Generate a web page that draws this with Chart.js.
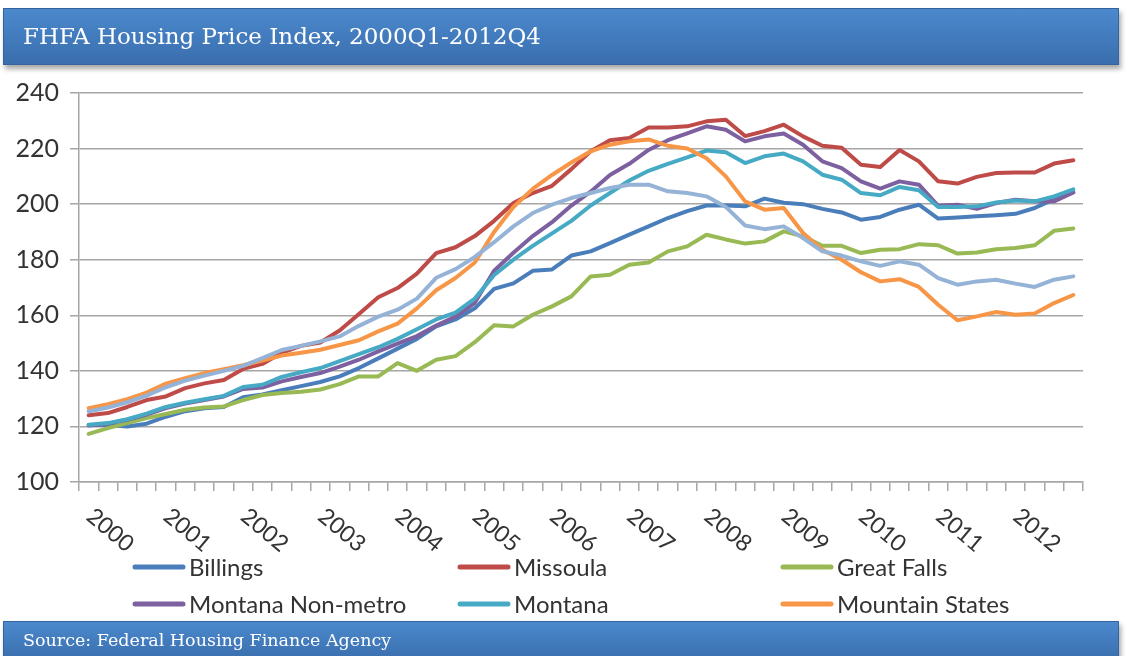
<!DOCTYPE html>
<html>
<head>
<meta charset="utf-8">
<script src="https://cdn.jsdelivr.net/npm/chart.js@4.4.1/dist/chart.umd.min.js"></script>
<style>
    body { margin: 0; width: 1126px; height: 656px; overflow: hidden; background: #fff; position: relative; }
    .banner {
        position: absolute; left: 3px; width: 1116px; z-index: 2;
        background: linear-gradient(#4b89cd, #3a6ead);
        border: 1px solid #3563a0;
        box-shadow: 2px 4px 5px rgba(0, 0, 0, 0.35);
        color: #fff; font-family: "DejaVu Serif", serif;
        box-sizing: border-box; padding-left: 19px;
    }
    #title { top: 8px; height: 57px; line-height: 55px; font-size: 23px; }
    #source { top: 621px; height: 40px; line-height: 36px; font-size: 17.5px; }
    #chart { position: absolute; left: 0; top: 0; z-index: 1; }
</style>
</head>
<body>
<div class="banner" id="title">FHFA Housing Price Index, 2000Q1-2012Q4</div>
<canvas id="chart" width="1126" height="656"></canvas>
<div class="banner" id="source">Source: Federal Housing Finance Agency</div>

<script>
// --- DATOS ---
const years = ['2000', '2001', '2002', '2003', '2004', '2005', '2006', '2007', '2008', '2009', '2010', '2011', '2012'];
const quarterNames = ['Q1', 'Q2', 'Q3', 'Q4'];

const billings = [120.5, 120.5, 120, 121, 123.5, 125.5, 126.5, 127, 130.5, 131.5,
    133, 134.5, 136, 138, 141, 144.5, 148, 151.5, 156, 158.5,
    162.5, 169.5, 171.5, 176, 176.5, 181.5, 183, 186, 189, 192,
    195, 197.5, 199.5, 199.5, 199.2, 202, 200.5, 200, 198.3, 197,
    194.4, 195.4, 198, 199.8, 194.8, 195.2, 195.6, 196, 196.5, 198.6,
    201.8, 204.3];
const missoula = [124, 124.8, 127, 129.5, 130.8, 133.8, 135.5, 136.7, 140.7, 142.5,
    146.5, 149, 150.2, 154.5, 160.5, 166.5, 169.8, 175, 182.4, 184.5,
    188.5, 194, 200.4, 204, 206.6, 212.6, 219, 223, 223.8, 227.6,
    227.6, 228, 229.8, 230.4, 224.5, 226.3, 228.6, 224.4, 221, 220.3,
    214.2, 213.4, 219.5, 215.4, 208.2, 207.4, 209.8, 211.2, 211.4, 211.4,
    214.6, 215.8];
const greatFalls = [117.3, 119.4, 121.2, 123, 124.5, 126, 126.8, 127.2, 129.5, 131.3,
    132, 132.5, 133.3, 135.2, 138, 138, 142.8, 140, 144, 145.3,
    150.3, 156.4, 156, 160.2, 163.2, 166.8, 174, 174.6, 178.2, 179,
    183, 184.8, 189, 187.3, 185.8, 186.6, 190.2, 188.4, 185, 185,
    182.4, 183.6, 183.8, 185.6, 185.2, 182.2, 182.6, 183.8, 184.2, 185.2,
    190.4, 191.2];
const nonMetro = [120.3, 121, 122.4, 124.3, 126.6, 128.2, 129.5, 130.8, 133.5, 134,
    136.2, 137.8, 139.2, 141.5, 144, 147, 149.8, 152.5, 156.3, 159.5,
    164.5, 176, 182.5, 188.5, 193.5, 199.5, 204.5, 210.5, 214.5, 219.5,
    223, 225.5, 228, 226.8, 222.6, 224.4, 225.4, 221.4, 215.4, 213,
    208.2, 205.6, 208.2, 207, 199.4, 199.8, 198.3, 200.4, 201.6, 201,
    201, 204.2];
const montana = [120.6, 121.2, 122.6, 124.6, 127, 128.5, 129.8, 131, 134.2, 135,
    137.8, 139.5, 141, 143.5, 146, 148.5, 151.5, 155, 158.5, 161,
    166, 174.5, 180, 185, 189.5, 194, 199.5, 204, 208.5, 212,
    214.5, 216.8, 219.3, 218.7, 214.8, 217.2, 218.2, 215.4, 210.6, 208.8,
    204, 203.2, 206.2, 205, 199, 199, 199.2, 200.6, 201.3, 201,
    202.8, 205.3];
const mountainStates = [126.6, 128, 129.8, 132.2, 135.4, 137.4, 139.2, 140.6, 142, 143.7,
    145.5, 146.5, 147.6, 149.3, 151, 154.2, 157, 162.5, 169, 173.4,
    179, 190, 199, 205.5, 210.5, 215, 219, 221.4, 222.6, 223.3,
    221, 220, 216.5, 210, 201, 198, 198.6, 189.6, 183.6, 180,
    175.5, 172.2, 173, 170.2, 163.8, 158.2, 159.6, 161.2, 160.2, 160.6,
    164.4, 167.3];
// serie sin nombre en la leyenda (linea azul claro)
const unlabelled = [125.4, 126.8, 128.7, 131.1, 134.1, 136.5, 138.3, 140, 141.8, 144.6,
    147.5, 149, 150.6, 152.4, 156.2, 159.5, 162, 166, 173.5, 176.6,
    181, 186.3, 192, 196.8, 199.8, 202.2, 204, 205.8, 207, 207,
    204.6, 204, 202.8, 199, 192.3, 191, 192, 187.8, 183, 181.5,
    179.4, 177.8, 179.4, 178.2, 173.4, 171, 172.2, 172.8, 171.4, 170.2,
    172.8, 174];

const yTicks = [100, 120, 140, 160, 180, 200, 220, 240];

// --- ESTILOS ---
const quarters = years.flatMap(y => quarterNames.map(q => y + q));
const gridColor = '#a6a6a6';
const textColor = '#333333';
const chartFont = 'Lato';

const series = [
    { label: 'Billings', data: billings, color: '#4a7ebb', legend: true },
    { label: 'Missoula', data: missoula, color: '#be4b48', legend: true },
    { label: 'Great Falls', data: greatFalls, color: '#98b954', legend: true },
    { label: 'Montana Non-metro', data: nonMetro, color: '#7d60a0', legend: true },
    { label: 'Montana', data: montana, color: '#46aac5', legend: true },
    { label: 'Mountain States', data: mountainStates, color: '#f79646', legend: true },
    { label: '', data: unlabelled, color: '#95b3d7', legend: false }
];

// --- PLUGIN: etiquetas de años y leyenda ---
const extras = {
    id: 'extras',
    afterDraw(chart) {
        const ctx = chart.ctx;
        const xs = chart.scales.x;
        ctx.save();
        ctx.fillStyle = textColor;
        ctx.font = `23px ${chartFont}`;
        ctx.textAlign = 'left';
        ctx.textBaseline = 'middle';
        years.forEach((yr, k) => {
            const px = xs.getPixelForValue(k * 4);
            ctx.save();
            ctx.translate(px + 1, 513);
            ctx.rotate(40 * Math.PI / 180);
            ctx.fillText(yr, 0, 0);
            ctx.restore();
        });

        // leyenda en 3 columnas
        const cols = [133, 458, 781];
        const rows = [567, 604];
        ctx.font = `24px ${chartFont}`;
        series.filter(s => s.legend).forEach((s, i) => {
            const x = cols[i % 3], y = rows[Math.floor(i / 3)];
            ctx.strokeStyle = s.color;
            ctx.lineWidth = 5;
            ctx.lineCap = 'round';
            ctx.beginPath();
            ctx.moveTo(x + 2, y);
            ctx.lineTo(x + 50, y);
            ctx.stroke();
            ctx.fillStyle = textColor;
            ctx.fillText(s.label, x + 56, y + 1);
        });
        ctx.restore();
    }
};

new Chart(document.getElementById('chart'), {
    type: 'line',
    data: {
        labels: quarters,
        datasets: series.map((s, i) => ({
            label: s.label,
            data: s.data,
            borderColor: s.color,
            backgroundColor: s.color,
            order: series.length - i
        }))
    },
    options: {
        responsive: false,
        animation: false,
        layout: { padding: { left: 0, top: 93, right: 43, bottom: 164 } },
        plugins: { legend: { display: false }, tooltip: { enabled: false } },
        elements: {
            point: { radius: 0 },
            line: { borderWidth: 4, tension: 0, borderJoinStyle: 'round', borderCapStyle: 'round' }
        },
        scales: {
            x: {
                offset: true,
                grid: { offset: true, drawOnChartArea: false, tickLength: 9, color: gridColor, lineWidth: 1.5 },
                border: { color: gridColor, width: 1.5 },
                ticks: { display: false, autoSkip: false },
                afterFit: s => { s.height = 10; }
            },
            y: {
                min: yTicks[0],
                max: yTicks[yTicks.length - 1],
                afterBuildTicks: s => { s.ticks = yTicks.map(v => ({ value: v })); },
                ticks: { padding: 11, color: textColor, font: { family: chartFont, size: 25 } },
                grid: { tickLength: 9, color: gridColor, lineWidth: 1.5 },
                border: { color: gridColor, width: 1.5 },
                afterFit: s => { s.width = 79; }
            }
        }
    },
    plugins: [extras]
});
</script>
</body>
</html>
